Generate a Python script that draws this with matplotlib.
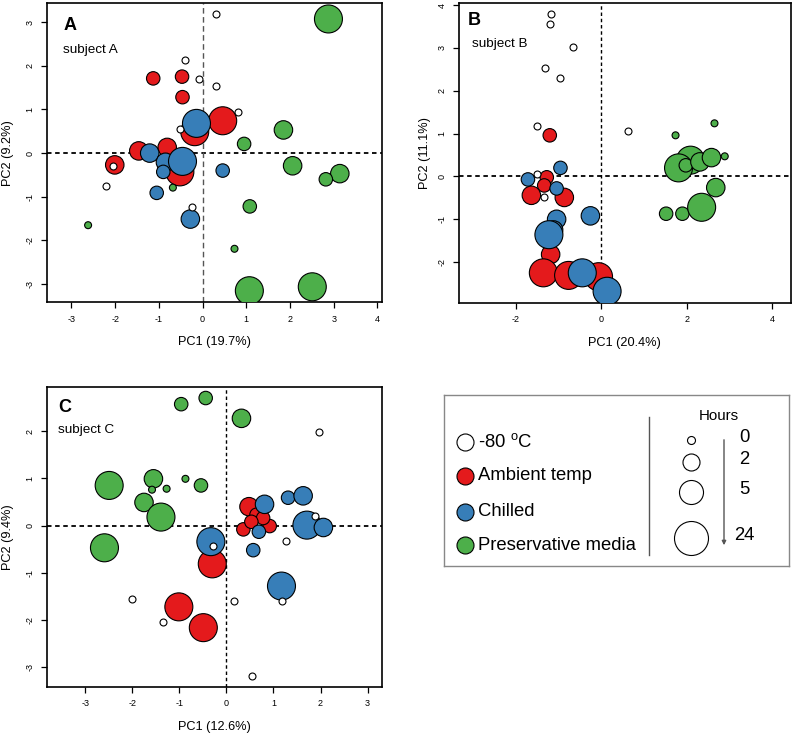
import matplotlib
matplotlib.use("Agg")
import matplotlib.pyplot as plt

plt.rcParams['font.family'] = ['Liberation Sans', 'DejaVu Sans']
plt.rcParams['mathtext.fontset'] = 'custom'
plt.rcParams['mathtext.rm'] = 'Liberation Sans'
plt.rcParams['axes.unicode_minus'] = False

# colours per storage condition
COLORS = {"-80": "white", "ambient": "#E41A1C", "chilled": "#377EB8", "media": "#4DAF4A"}
LABELS = ["-80 $^\\mathregular{o}$C", "Ambient temp", "Chilled", "Preservative media"]
HOURS = [0, 2, 5, 24]

# ---- subject A ----
a_frozen_x = [0.31, -0.40, -0.08, 0.31, 0.80, -0.52, -2.04, -2.21, -0.25]
a_frozen_y = [3.19, 2.14, 1.69, 1.54, 0.95, 0.55, -0.29, -0.76, -1.23]
a_ambient_x = [-1.13, -0.47, -0.46, 0.46, -0.18, -1.46, -0.81, -2.01, -0.52]
a_ambient_y = [1.71, 1.75, 1.28, 0.74, 0.49, 0.05, 0.13, -0.27, -0.43]
a_ambient_h = [2, 2, 2, 24, 24, 5, 5, 5, 24]
a_chilled_x = [-0.14, -1.21, -0.85, -0.46, -0.90, -1.05, 0.46, -0.28]
a_chilled_y = [0.68, 0.00, -0.21, -0.19, -0.43, -0.91, -0.40, -1.51]
a_chilled_h = [24, 5, 5, 24, 2, 2, 2, 5]
a_media_x = [2.88, 1.85, 0.95, 2.06, 3.14, 2.82, 1.08, -2.62, -0.68, 0.73, 1.07, 2.51]
a_media_y = [3.07, 0.53, 0.21, -0.29, -0.47, -0.60, -1.22, -1.65, -0.79, -2.19, -3.15, -3.06]
a_media_h = [24, 5, 2, 5, 5, 2, 2, 0, 0, 0, 24, 24]

# ---- subject B ----
b_frozen_x = [-1.16, -1.20, -0.65, -1.32, -0.95, -1.49, 0.62, -1.49, -1.34]
b_frozen_y = [3.80, 3.57, 3.03, 2.52, 2.30, 1.17, 1.07, 0.05, -0.48]
b_ambient_x = [-1.20, -1.27, -1.33, -1.63, -0.86, -1.18, -1.35, -0.76, -0.06]
b_ambient_y = [0.96, -0.02, -0.21, -0.44, -0.49, -1.82, -2.25, -2.31, -2.34]
b_ambient_h = [2, 2, 2, 5, 5, 5, 24, 24, 24]
b_chilled_x = [-0.95, -1.71, -1.04, -0.25, -1.04, -1.11, -1.22, -0.44, 0.14]
b_chilled_y = [0.20, -0.07, -0.28, -0.92, -1.00, -1.25, -1.36, -2.25, -2.68]
b_chilled_h = [2, 2, 2, 5, 5, 5, 24, 24, 24]
b_media_x = [2.65, 1.74, 2.89, 2.09, 1.81, 1.98, 2.31, 2.58, 2.68, 1.52, 1.90, 2.35]
b_media_y = [1.24, 0.96, 0.47, 0.38, 0.20, 0.26, 0.34, 0.44, -0.26, -0.87, -0.87, -0.72]
b_media_h = [0, 0, 0, 24, 24, 2, 5, 5, 5, 2, 2, 24]

# ---- subject C ----
c_frozen_x = [1.97, 1.88, 1.26, -0.28, -2.01, 0.16, 1.18, -1.35, 0.54]
c_frozen_y = [1.99, 0.20, -0.32, -0.44, -1.56, -1.60, -1.60, -2.03, -3.18]
c_ambient_x = [0.48, 0.64, 0.36, 0.92, 0.78, 0.53, -0.30, -1.01, -0.49]
c_ambient_y = [0.40, 0.23, -0.08, -0.01, 0.16, 0.08, -0.81, -1.72, -2.16]
c_ambient_h = [5, 2, 2, 2, 2, 2, 24, 24, 24]
c_chilled_x = [0.81, 1.31, 1.63, 1.71, 2.06, 0.69, 0.57, -0.33, 1.17]
c_chilled_y = [0.45, 0.59, 0.63, 0.01, -0.04, -0.13, -0.52, -0.34, -1.28]
c_chilled_h = [5, 2, 5, 24, 5, 2, 2, 24, 24]
c_media_x = [-0.44, -0.96, 0.32, -2.49, -1.55, -0.87, -0.54, -1.58, -1.27, -1.75, -1.39, -2.59]
c_media_y = [2.70, 2.57, 2.27, 0.85, 0.99, 0.99, 0.85, 0.76, 0.78, 0.49, 0.18, -0.47]
c_media_h = [2, 2, 5, 24, 5, 0, 2, 0, 0, 5, 24, 24]

# marker area (pt^2) per storage time
SIZE = {0: 25, 2: 94, 5: 177, 24: 406}
LEG_SIZE = {0: 33, 2: 150, 5: 299, 24: 599}


def style_axes(ax, xlim, ylim, xticks, yticks, xlabel, ylabel, ylab_x):
    ax.set_xlim(xlim)
    ax.set_ylim(ylim)
    ax.set_xticks(xticks)
    ax.set_yticks(yticks)
    ax.tick_params(direction='out', length=4, width=0.9, labelsize=6.5, pad=5)
    for lab in ax.get_yticklabels():
        lab.set_rotation(90)
        lab.set_va('center')
    for s in ax.spines.values():
        s.set_linewidth(1.2)
    ax.set_xlabel(xlabel, fontsize=9.2, va='center')
    ax.set_ylabel(ylabel, fontsize=9.2, va='center')
    ax.xaxis.set_label_coords(0.5, -0.134)
    ax.yaxis.set_label_coords(ylab_x, 0.5)


def draw_panel(ax, fx, fy, ax_, ay_, ah, cx, cy, ch, mx, my, mh, hdash, vdash, vcol):
    ax.axhline(0, color='black', ls=(0, hdash), lw=1.3, zorder=1)
    ax.axvline(0, color=vcol, ls=(0, vdash), lw=1.0, zorder=1)
    kw = dict(edgecolors='black', linewidths=0.8)
    ax.scatter(ax_, ay_, s=[SIZE[h] for h in ah], c=COLORS["ambient"], zorder=2, **kw)
    ax.scatter(cx, cy, s=[SIZE[h] for h in ch], c=COLORS["chilled"], zorder=3, **kw)
    ax.scatter(mx, my, s=[SIZE[h] for h in mh], c=COLORS["media"], zorder=4, **kw)
    ax.scatter(fx, fy, s=SIZE[0], c=COLORS["-80"], zorder=5, **kw)


fig = plt.figure(figsize=(7.97, 7.35), dpi=100)

axA = fig.add_axes([0.059, 0.589, 0.420, 0.4066])
draw_panel(axA, a_frozen_x, a_frozen_y, a_ambient_x, a_ambient_y, a_ambient_h,
           a_chilled_x, a_chilled_y, a_chilled_h, a_media_x, a_media_y, a_media_h,
           (2.5, 2), (4, 2.5), '#555555')
style_axes(axA, (-3.56, 4.1), (-3.41, 3.43), range(-3, 5), range(-3, 4),
           "PC1 (19.7%)", "PC2 (9.2%)", -0.116)
axA.text(0.048, 0.927, "A", transform=axA.transAxes, fontsize=13, fontweight='bold', va='center')
axA.text(0.048, 0.844, "subject A", transform=axA.transAxes, fontsize=9.7, va='center')

axB = fig.add_axes([0.576, 0.588, 0.416, 0.4074])
draw_panel(axB, b_frozen_x, b_frozen_y, b_ambient_x, b_ambient_y, b_ambient_h,
           b_chilled_x, b_chilled_y, b_chilled_h, b_media_x, b_media_y, b_media_h,
           (2.5, 2), (2.5, 2), 'black')
style_axes(axB, (-3.32, 4.43), (-2.95, 4.04), [-2, 0, 2, 4], range(-2, 5),
           "PC1 (20.4%)", "PC2 (11.1%)", -0.103)
axB.text(0.027, 0.944, "B", transform=axB.transAxes, fontsize=13, fontweight='bold', va='center')
axB.text(0.039, 0.864, "subject B", transform=axB.transAxes, fontsize=9.7, va='center')

axC = fig.add_axes([0.059, 0.0657, 0.420, 0.4082])
draw_panel(axC, c_frozen_x, c_frozen_y, c_ambient_x, c_ambient_y, c_ambient_h,
           c_chilled_x, c_chilled_y, c_chilled_h, c_media_x, c_media_y, c_media_h,
           (2.5, 2), (2.5, 2), 'black')
style_axes(axC, (-3.81, 3.30), (-3.41, 2.94), range(-3, 4), range(-3, 3),
           "PC1 (12.6%)", "PC2 (9.4%)", -0.116)
axC.text(0.033, 0.932, "C", transform=axC.transAxes, fontsize=13, fontweight='bold', va='center')
axC.text(0.033, 0.856, "subject C", transform=axC.transAxes, fontsize=9.7, va='center')

# ---- legend box (local pixel coords) ----
leg = fig.add_axes([444 / 797, 1 - 566 / 735, 345 / 797, 171 / 735])
leg.set_xlim(0, 345)
leg.set_ylim(171, 0)
leg.set_xticks([])
leg.set_yticks([])
for s in leg.spines.values():
    s.set_color('#888888')
    s.set_linewidth(1.0)

row_y = [47, 81, 117, 150]
for i, key in enumerate(["-80", "ambient", "chilled", "media"]):
    leg.scatter(21, row_y[i], s=150, c=COLORS[key], edgecolors='black', linewidths=0.8)
    leg.text(34, row_y[i], LABELS[i], fontsize=13.3, va='center', ha='left')

leg.plot([205, 205], [22, 160], color='#555555', lw=1.0)
leg.text(275, 21, "Hours", fontsize=10.8, ha='center', va='center')
hy = [45, 67, 97, 143]
for i, h in enumerate(HOURS):
    leg.scatter(247, hy[i], s=LEG_SIZE[h], c='white', edgecolors='black', linewidths=0.8)
    leg.text(300, hy[i] - 2, str(h), fontsize=13.3, ha='center', va='center')
leg.annotate("", xy=(280, 153), xytext=(280, 42),
             arrowprops=dict(arrowstyle='-|>', color='#555555', lw=1.0, mutation_scale=6))

fig.savefig("out.png", dpi=100)
